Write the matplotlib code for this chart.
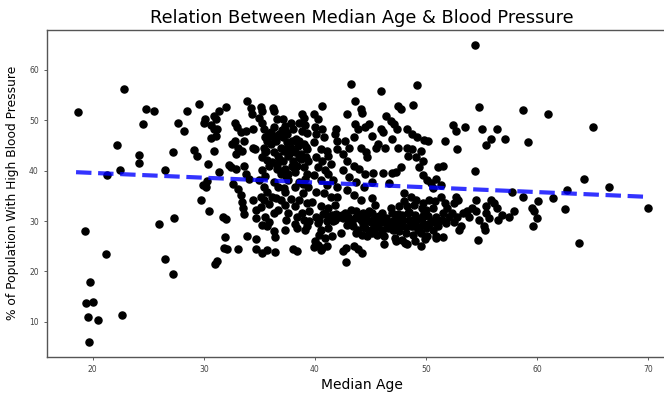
import matplotlib
matplotlib.use("Agg")
import matplotlib.pyplot as plt
import numpy as np

# median age (x) and % with high blood pressure (y)
median_age = [
    18.7, 19.35, 19.4, 19.8, 20.0, 19.6, 19.7, 20.5, 21.2, 21.3, 22.2, 22.5, 22.8, 22.6,
    24.2, 24.2, 24.5, 24.8, 25.5, 26.0, 26.5, 26.5, 27.2, 27.3, 27.2, 27.7, 28.2, 28.5,
    29.1, 29.4, 29.6, 29.7, 30.0, 30.1, 30.4, 30.2, 30.5, 30.6, 30.6, 30.9, 30.9, 31.0,
    31.2, 30.9, 31.1, 31.2, 31.4, 31.4, 31.7, 32.0, 32.0, 31.9, 31.8, 32.1, 32.3, 30.3,
    29.9, 32.4, 32.5, 31.1,
    # 32.5 - 34.5
    32.8, 33.0, 33.3, 32.8, 33.1, 32.9, 32.9, 32.6, 33.1, 33.3, 33.4, 33.5, 33.6, 33.1,
    33.9, 33.9, 33.6, 33.8, 34.1, 34.2, 34.3, 34.4, 33.8, 33.6, 33.4, 34.4, 34.6, 34.4,
    34.7, 34.7, 34.7, 34.7,
    # 34.5 - 37
    35.1, 35.2, 35.0, 35.2, 35.4, 35.5, 35.7, 35.4, 35.5, 35.2, 35.7, 35.9, 35.2, 35.5,
    35.0, 35.4, 35.7, 35.1, 35.4, 35.9, 35.1, 35.5, 35.9, 35.2, 35.7, 36.3, 36.4, 35.2,
    35.7, 36.4, 36.2, 36.3, 36.6, 36.3, 36.8, 36.5, 36.9, 36.3, 36.7, 36.1, 36.6, 36.9,
    36.3, 36.7, 36.5, 36.9, 36.3, 36.7, 36.1,
    # 37 - 39.5
    37.1, 37.3, 37.4, 37.8, 38.0, 37.1, 37.5, 37.3, 37.8, 38.2, 37.6, 37.1, 38.0, 38.4,
    37.3, 38.2, 37.6, 38.6, 38.2, 37.3, 37.8, 38.6, 37.3, 38.2, 37.6, 38.4, 38.8, 39.0,
    38.2, 37.4, 38.4, 39.1, 37.3, 38.0, 38.4, 38.8, 39.0, 38.6, 39.1, 38.8, 39.3, 38.6,
    39.0, 39.3, 38.7, 39.2, 39.4, 39.0, 39.3, 39.1, 39.4, 38.9, 39.3, 39.5, 39.5, 39.3,
    # 39.5 - 42
    39.9, 40.3, 40.6, 40.0, 40.6, 40.1, 40.8, 39.9, 40.5, 41.1, 40.1, 40.6, 41.2, 40.3,
    40.9, 41.4, 39.9, 40.5, 41.1, 41.6, 40.1, 40.8, 41.4, 39.7, 40.5, 41.2, 41.8, 40.1,
    40.9, 41.5, 40.3, 41.1, 41.8, 40.5, 41.2, 40.4, 40.9, 40.0, 40.3, 40.6, 41.1, 41.5,
    39.9, 40.5, 41.8, 41.9, 42.0, 42.0, 41.2, 42.0, 42.0,
    # 42 - 45
    43.2, 43.6, 44.1, 44.2, 42.9, 43.6, 43.9, 44.5, 44.9, 42.7, 43.1, 43.5, 44.1, 44.6,
    44.7, 42.5, 42.9, 43.5, 44.0, 44.5, 42.5, 43.1, 43.7, 44.4, 42.9, 43.5, 44.1, 42.7,
    43.2, 43.7, 44.3, 44.9, 42.5, 43.1, 43.6, 44.1, 44.6, 45.0, 42.9, 43.4, 43.9, 44.5,
    44.9, 43.7, 44.2, 44.7, 42.8, 42.5, 43.5, 43.9, 44.2, 42.8, 42.3,
    # 45 - 48
    45.9, 45.1, 45.5, 45.9, 46.1, 45.7, 45.2, 45.1, 46.1, 46.9, 46.7, 46.4, 46.8, 47.1,
    47.5, 47.7, 47.4, 46.9, 47.5, 47.7, 47.3, 46.3, 45.1, 45.4, 45.1, 45.6, 46.0, 46.4,
    46.9, 47.3, 47.8, 45.2, 45.8, 46.3, 46.8, 47.3, 47.7, 45.4, 46.0, 46.6, 47.0, 47.6,
    45.6, 46.2, 47.2, 47.8, 46.2, 47.3, 48.1, 46.8, 47.6, 48.0, 45.1,
    # 48 - 51
    49.2, 48.8, 48.3, 48.7, 49.2, 48.3, 48.7, 49.5, 49.8, 50.2, 48.4, 49.1, 49.7, 49.4,
    49.7, 50.1, 50.4, 50.6, 48.0, 48.6, 49.1, 49.7, 50.3, 50.8, 48.3, 48.9, 49.6, 50.0,
    50.6, 48.4, 49.0, 49.6, 50.2, 50.9, 48.5, 49.0, 49.7, 50.3, 50.9, 48.6, 49.3, 50.0,
    50.6, 48.8, 49.5, 50.1, 50.9, 49.0, 49.5, 49.9, 48.3, 51.1, 51.3, 50.9,
    # 51 - 54
    51.5, 51.7, 51.3, 51.7, 51.9, 51.5, 52.1, 51.4, 51.8, 51.1, 50.9, 51.5, 52.4, 52.7,
    52.8, 53.5, 52.5, 52.9, 52.3, 52.8, 53.3, 53.7, 52.5, 53.1, 53.0, 53.9, 52.7,
    # 54 - 58
    54.4, 54.4, 54.8, 55.0, 55.4, 55.8, 56.4, 57.1, 54.5, 54.5, 54.7, 54.8, 55.2, 55.3,
    55.4, 55.7, 55.8, 56.1, 56.4, 56.5, 56.8, 57.5, 57.7, 57.9, 55.4, 54.1,
    # 58+
    58.7, 59.2, 58.7, 59.5, 59.7, 59.6, 60.0, 60.1, 61.0, 61.4, 62.5, 62.7, 63.8, 64.2,
    65.0, 66.5, 70.0,
    # extra points inside the crowded blobs
    35.8, 36.0, 36.4, 36.8, 37.0, 37.2, 37.5, 37.7, 37.9, 38.1, 38.3, 38.5, 38.7, 36.6,
    37.0, 37.6, 38.0, 38.6, 39.2, 36.2, 36.9, 37.4, 37.9, 38.5, 35.6, 36.0, 37.2, 38.9,
    44.3, 44.8, 45.3, 45.7, 46.1, 46.5, 47.0, 47.4, 47.9, 48.2, 48.7, 49.2, 45.0, 45.5,
    46.0, 46.6, 47.1, 47.7, 48.2, 48.8, 49.4, 44.6, 45.8, 46.4, 47.5, 48.5, 49.8, 50.4,
    40.7, 41.3, 41.9, 42.4, 43.0, 43.8, 40.4, 41.6, 42.2, 43.3,
]
high_bp = [
    51.7, 28.1, 13.7, 17.9, 14.0, 11.0, 5.9, 10.3, 23.4, 39.1, 45.0, 40.2, 56.2, 11.3,
    43.1, 41.6, 49.2, 52.2, 51.8, 29.5, 40.1, 22.5, 43.7, 30.6, 19.4, 49.5, 47.9, 51.8,
    44.2, 43.0, 53.3, 34.2, 49.5, 50.2, 41.4, 36.8, 32.0, 46.5, 49.0, 48.3, 43.9, 21.4,
    22.1, 50.8, 50.3, 48.2, 39.7, 51.8, 30.9, 30.4, 52.7, 26.8, 24.6, 24.5, 41.2, 38.0,
    37.1, 40.7, 45.2, 46.9,
    # 32.5 - 34.5
    49.5, 48.7, 47.6, 45.9, 44.6, 43.3, 40.4, 37.3, 36.3, 35.1, 33.7, 32.5, 31.4, 24.4,
    53.8, 27.0, 40.9, 39.4, 38.4, 52.5, 51.2, 48.2, 47.9, 45.9, 44.0, 44.6, 44.3, 34.2,
    32.2, 30.6, 26.5, 24.5,
    # 34.5 - 37
    52.6, 51.8, 50.5, 49.5, 48.2, 46.6, 45.9, 44.6, 43.7, 42.7, 42.2, 41.0, 40.1, 38.9,
    38.1, 36.8, 35.8, 34.8, 34.2, 33.4, 32.7, 30.9, 29.9, 29.3, 29.0, 28.0, 26.9, 23.7,
    24.2, 23.8, 52.5, 51.8, 50.2, 48.6, 47.3, 45.9, 44.6, 43.7, 43.0, 41.7, 40.4, 39.4,
    37.8, 36.8, 34.5, 34.2, 31.6, 32.2, 34.8,
    # 37 - 39.5
    50.2, 48.9, 47.6, 49.5, 48.2, 46.6, 45.6, 44.3, 44.6, 43.7, 43.0, 42.0, 42.0, 41.0,
    40.4, 39.7, 38.1, 37.8, 36.8, 35.8, 34.3, 34.2, 33.2, 32.9, 31.6, 30.9, 31.6, 30.3,
    29.5, 30.3, 28.7, 28.3, 28.3, 24.4, 24.1, 51.2, 50.5, 49.5, 49.1, 47.9, 47.4, 45.9,
    45.3, 44.3, 43.3, 42.7, 42.0, 40.7, 39.4, 38.4, 36.8, 35.5, 33.5, 31.9, 30.0, 29.0,
    # 39.5 - 42
    51.2, 50.2, 52.8, 48.6, 48.2, 47.3, 46.6, 45.6, 44.3, 44.0, 42.7, 42.0, 43.0, 40.7,
    40.1, 41.4, 39.1, 38.1, 37.1, 38.1, 35.8, 35.5, 34.8, 33.7, 32.9, 32.5, 33.2, 30.9,
    31.6, 31.2, 29.7, 30.0, 30.3, 28.3, 28.6, 27.3, 26.7, 26.0, 25.2, 24.7, 25.0, 27.0,
    24.9, 24.3, 47.3, 48.2, 45.9, 44.3, 39.4, 36.8, 34.8,
    # 42 - 45
    57.2, 53.9, 52.2, 51.5, 51.2, 49.2, 48.2, 48.6, 49.3, 45.9, 44.6, 46.6, 44.6, 43.7,
    42.7, 43.3, 42.0, 41.0, 40.4, 39.4, 40.1, 38.8, 37.8, 36.8, 36.1, 35.2, 34.2, 31.6,
    32.2, 31.9, 31.6, 31.9, 30.6, 30.3, 30.6, 30.3, 30.6, 29.9, 29.3, 29.0, 28.3, 28.6,
    28.0, 27.7, 27.3, 27.0, 24.7, 24.1, 25.0, 24.5, 23.7, 21.8, 27.7,
    # 45 - 48
    55.8, 46.9, 44.6, 48.2, 47.6, 45.3, 39.5, 37.8, 39.5, 39.5, 37.5, 50.8, 49.9, 49.2,
    52.8, 52.2, 48.2, 46.3, 44.6, 40.7, 39.7, 44.6, 34.5, 33.2, 31.6, 30.9, 31.6, 30.6,
    31.6, 30.9, 31.2, 30.3, 29.6, 29.9, 29.5, 29.7, 29.3, 28.6, 28.3, 28.6, 28.3, 28.0,
    27.3, 27.0, 26.7, 26.3, 25.4, 26.0, 25.7, 32.6, 32.9, 33.9, 27.7,
    # 48 - 51
    57.1, 53.1, 48.2, 47.3, 46.6, 44.6, 44.3, 44.0, 46.1, 45.9, 43.0, 42.7, 42.0, 40.7,
    39.1, 38.1, 37.5, 36.5, 35.5, 34.8, 34.2, 33.5, 34.2, 33.9, 32.9, 33.2, 32.5, 32.2,
    32.5, 31.6, 31.2, 30.9, 31.1, 30.9, 30.3, 29.9, 29.7, 29.5, 29.7, 29.0, 28.3, 28.6,
    28.3, 27.3, 27.7, 27.0, 26.7, 26.0, 25.0, 26.4, 25.4, 40.7, 37.1, 38.4,
    # 51 - 54
    41.0, 45.9, 34.8, 33.5, 32.5, 31.6, 30.9, 30.3, 29.7, 29.0, 27.1, 26.9, 49.1, 47.9,
    44.3, 48.6, 33.5, 34.2, 31.6, 30.9, 31.6, 31.9, 29.9, 29.0, 28.3, 30.9, 34.8,
    # 54 - 58
    64.9, 39.9, 52.6, 48.2, 45.0, 46.3, 48.2, 46.3, 34.2, 31.9, 26.2, 30.3, 29.0, 28.3,
    31.6, 30.6, 34.2, 33.5, 32.5, 30.3, 31.3, 30.9, 35.8, 32.0, 32.9, 32.5,
    # 58+
    52.0, 45.6, 34.8, 32.5, 31.9, 29.0, 30.6, 33.9, 51.2, 34.6, 32.4, 36.2, 25.6, 38.3,
    48.6, 36.8, 32.5,
    # extra points inside the crowded blobs
    47.0, 45.2, 46.0, 42.4, 46.8, 44.0, 47.2, 43.3, 45.8, 41.4, 46.2, 44.9, 42.3, 41.1,
    48.0, 39.3, 40.8, 42.7, 44.7, 46.8, 40.0, 38.9, 41.0, 45.5, 43.9, 47.7, 36.5, 37.4,
    29.4, 30.0, 28.9, 29.2, 30.2, 29.0, 30.0, 29.1, 30.2, 28.9, 29.4, 30.4, 28.2, 29.9,
    28.1, 29.2, 28.7, 30.8, 27.7, 29.0, 28.9, 30.9, 31.0, 30.4, 31.4, 31.8, 31.6, 30.0,
    31.4, 30.8, 31.5, 31.2, 30.9, 31.0, 30.2, 30.0, 30.8, 29.4,
]

# ends of the fitted trend line
fit_x = [18.5, 70.0]
fit_y = [39.7, 34.8]

fig = plt.figure(figsize=(6.64, 3.93), dpi=100)
ax = fig.add_axes([0.071, 0.092, 0.949, 0.832])

ax.scatter(median_age, high_bp, s=26, color='black', zorder=2)
ax.plot(fit_x, fit_y, color='blue', ls='--', lw=3, alpha=0.8, zorder=3)

ax.set_xlim(15.9, 72.6)
ax.set_ylim(3.05, 67.95)
ax.set_xticks([20, 30, 40, 50, 60, 70])
ax.set_yticks([10, 20, 30, 40, 50, 60])
ax.tick_params(labelsize=5.5, length=2.5, width=0.6, colors='#444444')
for sp in ax.spines.values():
    sp.set_color('#555555')
    sp.set_linewidth(1.0)

ax.set_title('Relation Between Median Age & Blood Pressure', fontsize=12.8, pad=5)
ax.set_xlabel('Median Age', fontsize=10, labelpad=3)
ax.set_ylabel('% of Population With High Blood Pressure', fontsize=8.8, labelpad=7)

fig.savefig('out.png', dpi=100)
